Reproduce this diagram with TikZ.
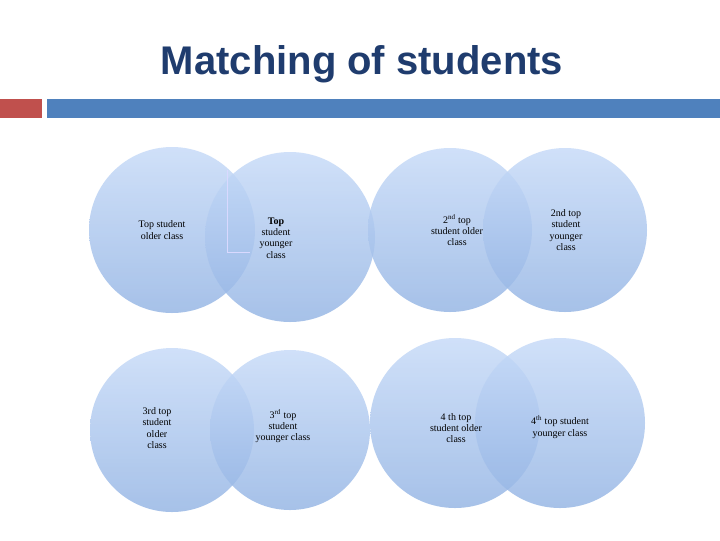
\documentclass[tikz,border=0pt]{standalone}
\usepackage{fontspec}
\setmainfont{Liberation Serif}
\newfontfamily\titlefont{Liberation Sans}
\definecolor{ctop}{HTML}{C6DAF8}
\definecolor{cbot}{HTML}{93B4E4}
\definecolor{ttl}{HTML}{1F3C6E}
\begin{document}
\begin{tikzpicture}[x=0.75pt,y=-0.75pt,
  circ/.style={top color=ctop,bottom color=cbot,fill opacity=0.82,draw=none},
  lbl/.style={align=center,font=\fontsize{7.5}{8.5}\selectfont,text=black,text opacity=1}]
\useasboundingbox (0,0) rectangle (720,540);
\fill[white] (0,0) rectangle (720,540);
\node[font=\titlefont\bfseries\fontsize{30}{33}\selectfont,text=ttl] (title) at (362,64) {Matching of students};
\fill[fill={rgb,255:red,192;green,80;blue,77}] (0,99) rectangle (42,118);
\fill[fill={rgb,255:red,79;green,129;blue,189}] (47,99) rectangle (720,118);
\foreach \x/\y/\r in {172/230/83, 290/237/85, 450/230/82, 565/230/82, 172/430/82, 290/430/80, 455/423/85, 560/423/85}
  \shade[circ] (\x,\y) circle (\r);
\draw[white!85!blue,line width=0.6pt] (227,170) -- (227,252) -- (250,252);
\node[lbl] (a1) at (162,230) {Top student\\older class};
\node[lbl] (a2) at (276,238) {\textbf{Top}\\student\\younger\\class};
\node[lbl] (b1) at (457,230) {2\textsuperscript{nd} top\\student older\\class};
\node[lbl] (b2) at (566,230) {2nd top\\student\\younger\\class};
\node[lbl] (c1) at (157,428) {3rd top\\student\\older\\class};
\node[lbl] (c2) at (283,426) {3\textsuperscript{rd} top\\student\\younger class};
\node[lbl] (d1) at (456,428) {4 th top\\student older\\class};
\node[lbl] (d2) at (560,427) {4\textsuperscript{th} top student\\younger class};
\end{tikzpicture}
\end{document}
